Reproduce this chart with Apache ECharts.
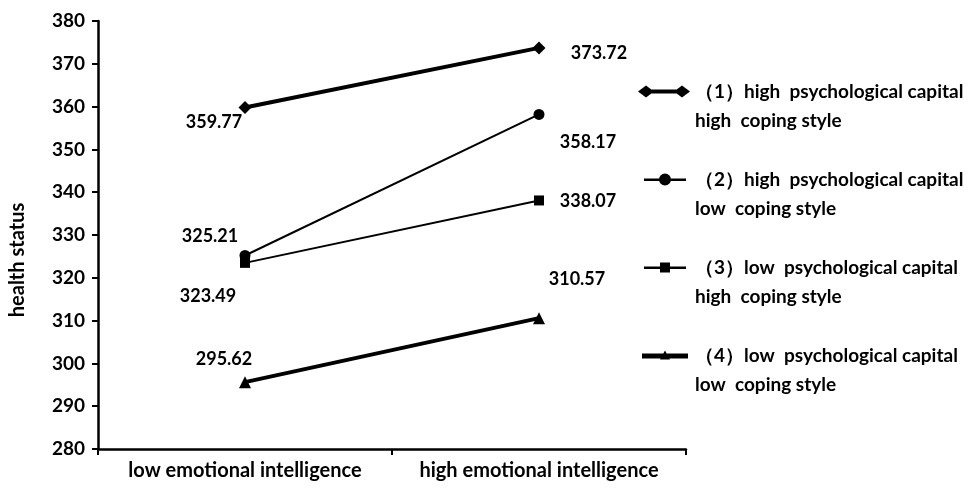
<!DOCTYPE html>
<html><head><meta charset="utf-8">
<script src="https://cdn.jsdelivr.net/npm/echarts@6/dist/echarts.min.js"></script>
<style>html,body{margin:0;padding:0;background:#fff}#c{width:978px;height:489px}</style>
</head><body><div id="c"></div>
<script>
const categories = ['low emotional intelligence', 'high emotional intelligence'];
const seriesNames = [
  '（1）high  psychological capital\nhigh  coping style',
  '（2）high  psychological capital\nlow  coping style',
  '（3）low  psychological capital\nhigh  coping style',
  '（4）low  psychological capital\nlow  coping style'
];
const s1 = [359.77, 373.72];
const s2 = [325.21, 358.17];
const s3 = [323.49, 338.07];
const s4 = [295.62, 310.57];
const yTicks = { min: 280, max: 380, interval: 10 };

const FONT = 'Lato';
const seriesData = [s1, s2, s3, s4];
const symbols = ['diamond', 'circle', 'rect', 'triangle'];
const symbolSizes = [13, 11, 10, 12];
const widths = [4, 2, 2, 4];
const labelOffsets = [
  [[-31, 15], [60, 5]],
  [[-35, -19], [49, 28]],
  [[-37, 33], [49, 1]],
  [[-21, -23], [38, -39]]
];
// legend icons (52 x 14 box)
const corners = 'M0 0 M52 14 ';
const legendIcons = [
  'path://M0 7 L8 1 L16 7 L8 13 Z M36 7 L44 1 L52 7 L44 13 Z M8 5 L44 5 L44 9 L8 9 Z',
  'path://' + corners + 'M6 6 L48 6 L48 8.5 L6 8.5 Z M33 7 A6 6 0 1 1 21 7 A6 6 0 1 1 33 7 Z',
  'path://' + corners + 'M6 6 L48 6 L48 8.5 L6 8.5 Z M22 2 L32 2 L32 12 L22 12 Z',
  'path://' + corners + 'M4 5 L50 5 L50 10 L4 10 Z M27 2 L32 11 L22 11 Z'
];

const series = seriesData.map((d, i) => ({
  name: seriesNames[i],
  type: 'line',
  symbol: symbols[i],
  symbolSize: symbolSizes[i],
  itemStyle: { color: '#000' },
  lineStyle: { color: '#000', width: widths[i] },
  data: d.map((v, j) => ({
    value: v,
    label: {
      show: true,
      position: 'inside',
      offset: labelOffsets[i][j],
      formatter: v.toFixed(2),
      color: '#000',
      fontFamily: FONT,
      fontWeight: 'bold',
      fontSize: 18
    }
  }))
}));

const chart = echarts.init(document.getElementById('c'));
chart.setOption({
  animation: false,
  backgroundColor: '#fff',
  grid: { left: 98, right: 292, top: 21, bottom: 40, containLabel: false },
  legend: {
    orient: 'vertical',
    left: 633,
    top: 43,
    itemWidth: 52,
    itemHeight: 14,
    itemGap: 1,
    data: seriesNames.map((n, i) => ({ name: n, icon: legendIcons[i], itemStyle: { color: '#000', borderWidth: 0 } })),
    formatter: n => '\n' + n,
    textStyle: { color: '#000', fontFamily: FONT, fontWeight: 'bold', fontSize: 19, lineHeight: 29 }
  },
  xAxis: {
    type: 'category',
    data: categories,
    axisLine: { lineStyle: { color: '#000', width: 2.5 } },
    axisTick: { show: true, interval: 0, length: 6, lineStyle: { color: '#000', width: 2 } },
    axisLabel: { interval: 0, hideOverlap: false, color: '#000', fontFamily: FONT, fontWeight: 'bold', fontSize: 20, margin: 12 }
  },
  yAxis: {
    type: 'value',
    min: yTicks.min, max: yTicks.max, interval: yTicks.interval,
    name: 'health status',
    nameLocation: 'middle',
    nameGap: 70,
    nameTextStyle: { color: '#000', fontFamily: FONT, fontWeight: 'bold', fontSize: 20, padding: [0, 50, 0, 0] },
    splitLine: { show: false },
    axisLine: { show: true, lineStyle: { color: '#000', width: 2.5 } },
    axisTick: { show: true, length: 6, lineStyle: { color: '#000', width: 2 } },
    axisLabel: { color: '#000', fontFamily: FONT, fontWeight: 'bold', fontSize: 19, margin: 13 }
  },
  series: series
});
</script></body></html>
